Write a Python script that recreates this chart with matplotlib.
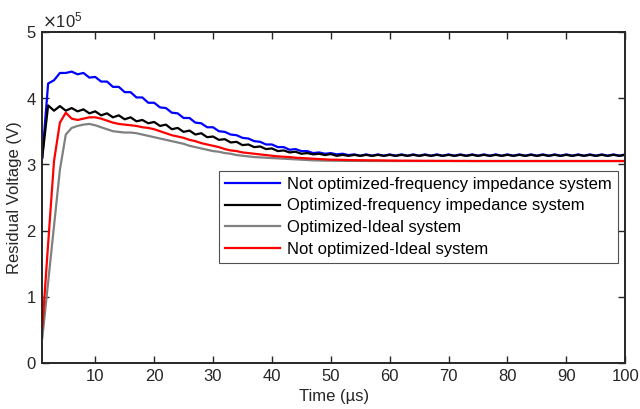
"""Residual voltage comparison: frequency-dependent vs ideal system models."""
import matplotlib
matplotlib.use("Agg")
import matplotlib.pyplot as plt
from matplotlib.ticker import ScalarFormatter

# time axis in microseconds (1 us sampling)
time_us = list(range(1, 101))

# residual voltage, in units of 1e5 V
not_opt_freq = [
    3.10, 4.22, 4.27, 4.38, 4.38, 4.40, 4.36, 4.38, 4.31, 4.32,
    4.25, 4.25, 4.17, 4.17, 4.09, 4.09, 4.01, 4.01, 3.93, 3.93,
    3.86, 3.85, 3.78, 3.77, 3.70, 3.70, 3.63, 3.62, 3.56, 3.56,
    3.50, 3.49, 3.45, 3.44, 3.40, 3.39, 3.35, 3.34, 3.30, 3.30,
    3.26, 3.26, 3.22, 3.23, 3.20, 3.20, 3.17, 3.18, 3.16, 3.17,
    3.15, 3.16, 3.14, 3.15, 3.13, 3.15, 3.13, 3.15, 3.13, 3.15,
    3.13, 3.15, 3.13, 3.15, 3.13, 3.15, 3.13, 3.15, 3.13, 3.15,
    3.13, 3.15, 3.13, 3.15, 3.13, 3.15, 3.13, 3.15, 3.13, 3.15,
    3.13, 3.15, 3.13, 3.15, 3.13, 3.15, 3.13, 3.15, 3.13, 3.15,
    3.13, 3.15, 3.13, 3.15, 3.13, 3.15, 3.13, 3.15, 3.13, 3.15,
]
opt_freq = [
    3.10, 3.89, 3.81, 3.88, 3.81, 3.85, 3.80, 3.83, 3.77, 3.80,
    3.74, 3.77, 3.71, 3.74, 3.68, 3.71, 3.65, 3.67, 3.62, 3.64,
    3.58, 3.60, 3.53, 3.55, 3.49, 3.51, 3.45, 3.47, 3.41, 3.42,
    3.37, 3.38, 3.33, 3.34, 3.29, 3.30, 3.26, 3.27, 3.23, 3.24,
    3.20, 3.21, 3.18, 3.19, 3.16, 3.17, 3.15, 3.16, 3.14, 3.155,
    3.128, 3.143, 3.128, 3.143, 3.128, 3.143, 3.128, 3.143, 3.128, 3.143,
    3.128, 3.143, 3.128, 3.143, 3.128, 3.143, 3.128, 3.143, 3.128, 3.143,
    3.128, 3.143, 3.128, 3.143, 3.128, 3.143, 3.128, 3.143, 3.128, 3.143,
    3.128, 3.143, 3.128, 3.143, 3.128, 3.143, 3.128, 3.143, 3.128, 3.143,
    3.128, 3.143, 3.128, 3.143, 3.128, 3.143, 3.128, 3.143, 3.128, 3.143,
]
opt_ideal = [
    0.37, 1.22, 2.07, 2.92, 3.45, 3.55, 3.58, 3.60, 3.61, 3.59,
    3.56, 3.53, 3.50, 3.49, 3.48, 3.48, 3.47, 3.45, 3.43, 3.41,
    3.39, 3.37, 3.35, 3.33, 3.31, 3.28, 3.26, 3.24, 3.22, 3.20,
    3.19, 3.17, 3.16, 3.14, 3.13, 3.12, 3.11, 3.105, 3.10, 3.095,
    3.09, 3.085, 3.08, 3.075, 3.07, 3.065, 3.06, 3.058, 3.056, 3.055,
    3.054, 3.053, 3.052, 3.052, 3.051, 3.051, 3.05, 3.05, 3.05, 3.05,
    3.05, 3.05, 3.05, 3.05, 3.05, 3.05, 3.05, 3.05, 3.05, 3.05,
    3.05, 3.05, 3.05, 3.05, 3.05, 3.05, 3.05, 3.05, 3.05, 3.05,
    3.05, 3.05, 3.05, 3.05, 3.05, 3.05, 3.05, 3.05, 3.05, 3.05,
    3.05, 3.05, 3.05, 3.05, 3.05, 3.05, 3.05, 3.05, 3.05, 3.05,
]
not_opt_ideal = [
    0.52, 1.80, 3.05, 3.63, 3.78, 3.69, 3.67, 3.69, 3.71, 3.71,
    3.69, 3.66, 3.63, 3.61, 3.60, 3.59, 3.58, 3.56, 3.55, 3.53,
    3.50, 3.47, 3.44, 3.42, 3.40, 3.37, 3.35, 3.32, 3.30, 3.28,
    3.26, 3.23, 3.21, 3.20, 3.18, 3.17, 3.16, 3.15, 3.14, 3.13,
    3.12, 3.115, 3.11, 3.10, 3.095, 3.09, 3.085, 3.08, 3.075, 3.07,
    3.07, 3.067, 3.065, 3.063, 3.062, 3.061, 3.06, 3.06, 3.058, 3.057,
    3.056, 3.055, 3.055, 3.054, 3.054, 3.053, 3.053, 3.052, 3.052, 3.052,
    3.051, 3.051, 3.051, 3.05, 3.05, 3.05, 3.05, 3.05, 3.05, 3.05,
    3.05, 3.05, 3.05, 3.05, 3.05, 3.05, 3.05, 3.05, 3.05, 3.05,
    3.05, 3.05, 3.05, 3.05, 3.05, 3.05, 3.05, 3.05, 3.05, 3.05,
]

series = [
    ("Not optimized-frequency impedance system", not_opt_freq, "#0000ff"),
    ("Optimized-frequency impedance system", opt_freq, "#000000"),
    ("Optimized-Ideal system", opt_ideal, "#808080"),
    ("Not optimized-Ideal system", not_opt_ideal, "#ff0000"),
]


def main():
    plt.rcParams["font.family"] = ["Liberation Sans", "DejaVu Sans"]
    plt.rcParams["font.size"] = 12

    fig = plt.figure(figsize=(6.4, 4.09), dpi=100)
    ax = fig.add_axes([0.066, 0.1125, 0.911, 0.8095])

    for label, vals, color in series:
        ax.plot(time_us, [v * 1e5 for v in vals], color=color, lw=1.6, label=label)

    ax.set_xlim(1, 100)
    ax.set_ylim(0, 5e5)
    ax.set_xticks(range(10, 101, 10))
    ax.set_yticks([0, 1e5, 2e5, 3e5, 4e5, 5e5])

    fmt = ScalarFormatter(useMathText=True)
    fmt.set_powerlimits((0, 0))
    ax.yaxis.set_major_formatter(fmt)
    ax.yaxis.get_offset_text().set_fontsize(12)
    ax.yaxis.get_offset_text().set_color("#262626")

    ax.tick_params(direction="in", top=True, right=True, length=5, width=1.0,
                   labelsize=12, colors="#262626", pad=4)
    for sp in ax.spines.values():
        sp.set_linewidth(1.4)
        sp.set_color("#262626")

    ax.set_xlabel("Time (\u00b5s)", fontsize=12, color="#262626", labelpad=4)
    ax.set_ylabel("Residual Voltage (V)", fontsize=12, color="#262626", labelpad=3)

    leg = ax.legend(loc="upper left", bbox_to_anchor=(0.303, 0.58), fontsize=12,
                    frameon=True, fancybox=False, edgecolor="#262626",
                    handlelength=3.3, handletextpad=0.45, labelspacing=0.4,
                    borderpad=0.35, borderaxespad=0)
    leg.get_frame().set_linewidth(0.8)

    fig.savefig("out.png", dpi=100)
    plt.close(fig)


if __name__ == "__main__":
    main()
